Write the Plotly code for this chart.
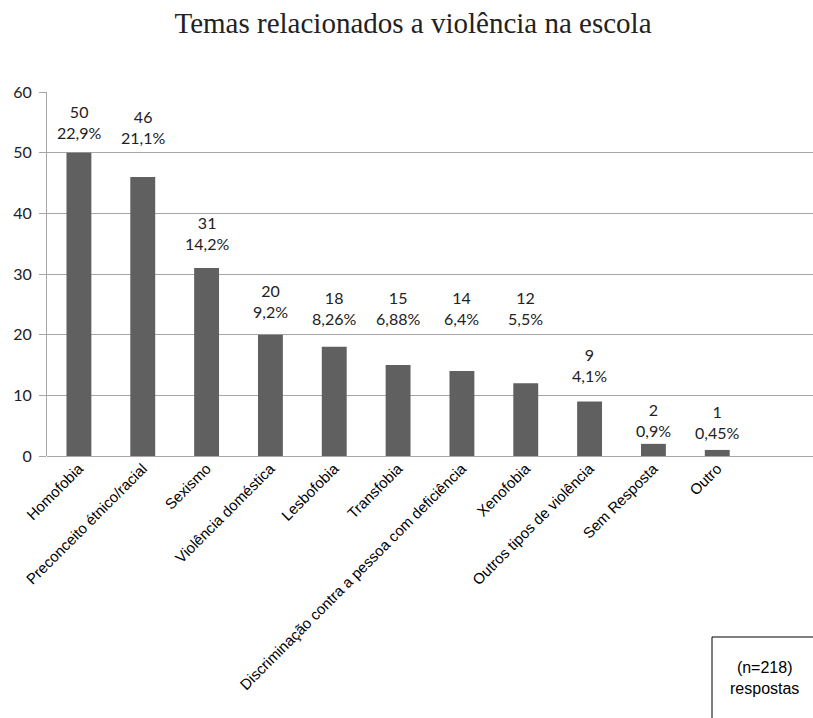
import plotly.graph_objects as go

categories = ["Homofobia", "Preconceito étnico/racial", "Sexismo", "Violência doméstica",
              "Lesbofobia", "Transfobia", "Discriminação contra a pessoa com deficiência",
              "Xenofobia", "Outros tipos de violência", "Sem Resposta", "Outro"]
counts = [50, 46, 31, 20, 18, 15, 14, 12, 9, 2, 1]
percent_labels = ["22,9%", "21,1%", "14,2%", "9,2%", "8,26%", "6,88%", "6,4%", "5,5%",
                  "4,1%", "0,9%", "0,45%"]
y_ticks = [0, 10, 20, 30, 40, 50, 60]

# pixel offsets of each data label above its bar (style, as placed in the original)
label_shift = [9, 28, 13, 12, 17, 35, 41, 53, 14, 2, 6]

W, H = 813, 718
L, R, T, B = 47, 0, 92, 262

fig = go.Figure()
fig.add_trace(go.Bar(
    x=categories, y=counts,
    marker=dict(color="#606060", line=dict(width=0)),
    hoverinfo="x+y",
))

annotations = []
for cat, c, p, s in zip(categories, counts, percent_labels, label_shift):
    annotations.append(dict(
        x=cat, y=c, xref="x", yref="y", text=f"{c}<br>{p}",
        showarrow=False, yanchor="bottom", yshift=s,
        font=dict(family="Lato, Open Sans, sans-serif", size=16, color="#222222"),
    ))

annotations.append(dict(
    xref="paper", yref="paper", x=(764 - L) / (W - L - R), y=(456 - 678) / (456 - T),
    text="(n=218)<br>respostas", showarrow=False, xanchor="center", yanchor="middle",
    font=dict(family="Liberation Sans, Arial, sans-serif", size=16, color="#000000"),
))

shapes = [dict(
    type="rect", xref="paper", yref="paper",
    x0=(712 - L) / (W - L - R), x1=1.05,
    y0=(456 - 760) / (456 - T), y1=(456 - 637) / (456 - T),
    line=dict(color="black", width=1), fillcolor="rgba(0,0,0,0)", layer="above",
)]

fig.update_layout(
    width=W, height=H,
    margin=dict(l=L, r=R, t=T, b=B, pad=0),
    paper_bgcolor="white", plot_bgcolor="white",
    title=dict(text="Temas relacionados a violência na escola", x=0.508, xanchor="center",
               y=1 - 23 / H, yanchor="middle",
               font=dict(family="Liberation Serif, Times New Roman, serif", size=29, color="#222222")),
    bargap=0.61,
    showlegend=False,
    annotations=annotations,
    shapes=shapes,
    xaxis=dict(
        type="category", range=[-0.5, 11.5],
        tickangle=-45, showgrid=False, showline=False, zeroline=False,
        ticks="", tickfont=dict(family="Liberation Sans, Arial, sans-serif", size=15, color="#000000"),
        automargin=False,
    ),
    yaxis=dict(
        range=[0, 60], tickvals=y_ticks, showgrid=True, gridcolor="#a6a6a6", gridwidth=1,
        showline=True, linecolor="#a6a6a6", linewidth=1, ticks="outside", ticklen=7,
        tickcolor="#a6a6a6", zeroline=True, zerolinecolor="#a6a6a6", zerolinewidth=1,
        ticklabelstandoff=4,
        tickfont=dict(family="Lato, Open Sans, sans-serif", size=16, color="#222222"),
        automargin=False,
    ),
)

fig.write_html("out.html")
